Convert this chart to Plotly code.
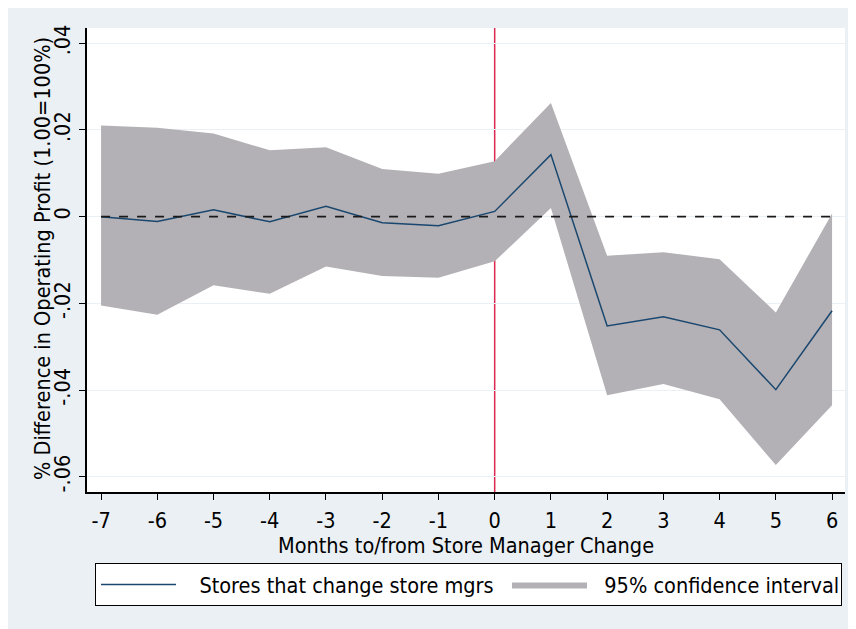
import plotly.graph_objects as go

months = [-7, -6, -5, -4, -3, -2, -1, 0, 1, 2, 3, 4, 5, 6]
month_labels = ["-7", "-6", "-5", "-4", "-3", "-2", "-1", "0", "1", "2", "3", "4", "5", "6"]
estimate = [0.0000, -0.0011, 0.0016, -0.0012, 0.0024, -0.0014, -0.0021, 0.0012,
            0.0143, -0.0252, -0.0231, -0.0261, -0.0399, -0.0217]
ci_upper = [0.0210, 0.0205, 0.0192, 0.0153, 0.0160, 0.0110, 0.0099, 0.0128,
            0.0262, -0.0090, -0.0082, -0.0098, -0.0221, 0.0007]
ci_lower = [-0.0205, -0.0226, -0.0158, -0.0178, -0.0115, -0.0137, -0.0141, -0.0103,
            0.0020, -0.0412, -0.0386, -0.0421, -0.0573, -0.0435]
y_ticks = [-0.06, -0.04, -0.02, 0, 0.02, 0.04]
y_tick_labels = ["-.06", "-.04", "-.02", "0", ".02", ".04"]
event_month = 0

FONT = "Liberation Sans Narrow, DejaVu Sans Condensed, Arial Narrow, sans-serif"
BG = "#EAF0F4"
FS = 21.5

fig = go.Figure()

fig.add_trace(go.Scatter(
    x=months + months[::-1],
    y=ci_upper + ci_lower[::-1],
    fill="toself", fillcolor="#B3B1B5", mode="lines",
    line=dict(width=0, color="#B3B1B5"),
    name="\u00a0\u00a0" + "95% confidence interval", legendrank=2, legendwidth=244,
    hoverinfo="skip"))

fig.add_trace(go.Scatter(
    x=months, y=estimate, mode="lines",
    line=dict(color="#1A476F", width=1.5),
    name="\u00a0\u00a0\u00a0" + "Stores that change store mgrs", legendrank=1,
    legendwidth=321))

fig.add_trace(go.Scatter(
    x=[months[0], months[-1]], y=[0, 0], mode="lines",
    line=dict(color="#1a1a1a", width=1.8, dash="dash"),
    showlegend=False, hoverinfo="skip"))

fig.add_vline(x=event_month, line=dict(color="#DC2850", width=1.5), layer="below")

fig.add_annotation(
    text="% Difference in Operating Profit (1.00=100%)",
    xref="paper", yref="paper", x=-44 / 758, y=(464 - (259 - 28)) / 464,
    xanchor="center", yanchor="middle", textangle=-90, showarrow=False,
    font=dict(family=FONT, size=FS, color="black"))

# the page body adds an 8px offset, so the figure is 8px smaller and margins shifted
fig.update_layout(
    width=848, height=621,
    margin=dict(l=79, r=11, t=20, b=137),
    paper_bgcolor=BG, plot_bgcolor="white",
    font=dict(family=FONT, size=FS, color="black"),
    showlegend=True,
    legend=dict(
        orientation="h", x=8 / 758, xanchor="left", y=-71 / 464, yanchor="top",
        bgcolor="white", bordercolor="black", borderwidth=1,
        itemwidth=75, traceorder="normal",
        font=dict(family=FONT, size=FS, color="black"),
    ),
    xaxis=dict(
        range=[-7.25, 6.23], tickmode="array", tickvals=months, ticktext=month_labels,
        ticks="outside", ticklen=6, tickcolor="black", ticklabelstandoff=2,
        showline=True, linecolor="black", linewidth=1.5,
        showgrid=False, zeroline=False, automargin=False,
        title=dict(text="Months to/from Store Manager Change", standoff=0,
                   font=dict(family=FONT, size=FS)),
    ),
    yaxis=dict(
        range=[-0.0635, 0.0435], tickmode="array", tickvals=y_ticks,
        ticktext=y_tick_labels, tickangle=-90, ticklabelstandoff=1,
        ticks="outside", ticklen=6, tickcolor="black",
        showline=True, linecolor="black", linewidth=1.5,
        showgrid=True, gridcolor="#EAF0F4", gridwidth=1, zeroline=False,
        automargin=False,
    ),
)

fig.write_html("out.html")
